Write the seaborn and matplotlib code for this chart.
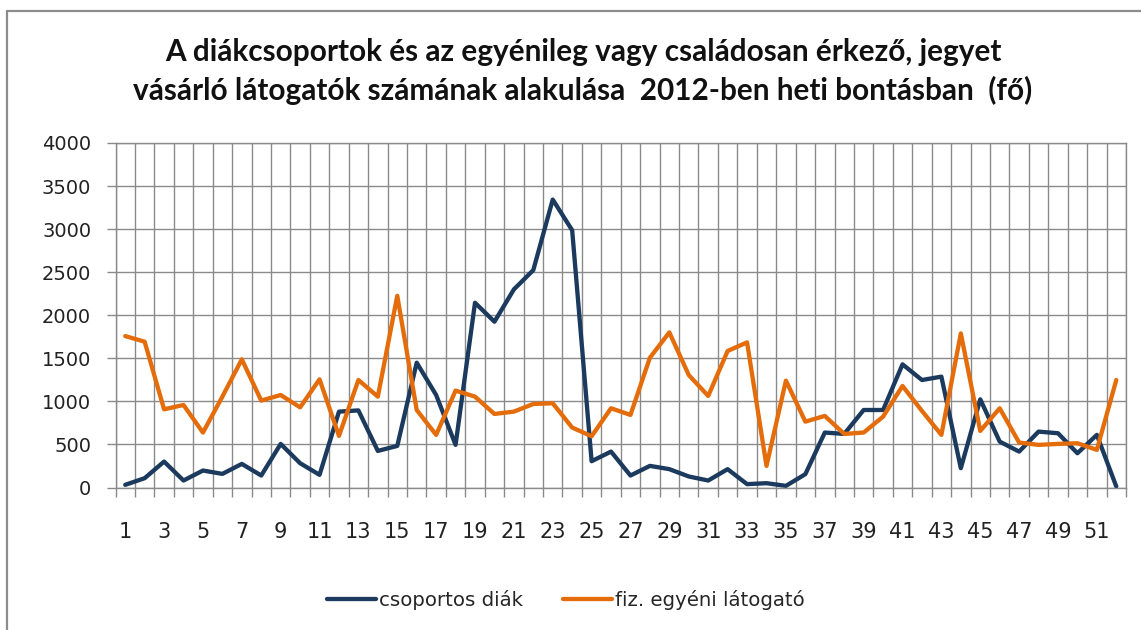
import matplotlib
matplotlib.use("Agg")
import matplotlib.pyplot as plt
import seaborn as sns
import pandas as pd
from matplotlib.lines import Line2D
from matplotlib.ticker import FixedLocator

# ---- data ----
weeks = list(range(1, 53))
series_names = ["csoportos diák", "fiz. egyéni látogató"]
diak = [31, 108, 301, 81, 197, 158, 274, 139, 506, 282, 147, 881, 895,
        425, 483, 1449, 1074, 495, 2145, 1925, 2300, 2524, 3343, 2987, 305,
        417, 139, 251, 213, 128, 81, 213, 39, 50, 19, 155, 638, 622,
        900, 900, 1430, 1248, 1287, 224, 1024, 533, 417, 649, 630, 398, 611, 12]
egyeni = [1758, 1693, 908, 958, 638, 1055, 1488, 1009, 1074, 931, 1256, 599,
          1248, 1055, 2226, 900, 611, 1125, 1055, 854, 881, 970, 978, 696, 595,
          920, 843, 1507, 1801, 1306, 1063, 1585, 1685, 251, 1241, 765, 831, 622,
          638, 823, 1179, 889, 611, 1789, 657, 920, 522, 495, 506, 514, 437, 1248]
x_tick_labels = [str(w) for w in range(1, 53, 2)]
y_ticks = list(range(0, 4001, 500))
title_lines = ["A diákcsoportok és az egyénileg vagy családosan érkező, jegyet",
               "vásárló látogatók számának alakulása  2012-ben heti bontásban  (fő)"]
colors = ["#1B3A5E", "#E46C0A"]

df = pd.DataFrame({
    "het": weeks * 2,
    "fo": diak + egyeni,
    "sorozat": [series_names[0]] * len(weeks) + [series_names[1]] * len(weeks),
})

sns.set_theme(style="white")
plt.rcParams['font.family'] = ['DejaVu Sans']

W, H = 1141, 630
fig = plt.figure(figsize=(W / 100, H / 100), dpi=100)
fig.patch.set_facecolor("white")
ax = fig.add_axes([115.5 / W, 1 - 487.5 / H, (1126 - 115.5) / W, (487.5 - 143) / H])

sns.lineplot(data=df, x="het", y="fo", hue="sorozat", palette=colors,
             linewidth=3.1, ax=ax, legend=False, sort=False)
for ln in ax.lines:
    ln.set_solid_joinstyle("round")
    ln.set_solid_capstyle("round")

grid_c = "#8A8A8A"
ax.set_xlim(0.5, 52.5)
ax.set_ylim(0, 4000)
ax.xaxis.set_major_locator(FixedLocator(list(range(1, 53, 2))))
ax.set_xticklabels(x_tick_labels)
ax.xaxis.set_minor_locator(FixedLocator([w + 0.5 for w in range(0, 53)]))
ax.set_yticks(y_ticks)
ax.set_yticklabels([str(v) for v in y_ticks])
ax.set_xlabel("")
ax.set_ylabel("")

ax.grid(False)
ax.grid(True, which="minor", axis="x", color=grid_c, linewidth=1.0)
ax.grid(True, which="major", axis="y", color=grid_c, linewidth=1.0)
ax.tick_params(axis="x", which="major", length=0, pad=25, labelsize=15, labelcolor="#222222")
ax.tick_params(axis="x", which="minor", length=6.5, width=1.0, color=grid_c, direction="out", bottom=True)
ax.tick_params(axis="y", which="major", length=6.5, width=1.0, color=grid_c, direction="out",
               pad=11, labelsize=14, labelcolor="#222222", left=True)
for s in ax.spines.values():
    s.set_color(grid_c)
    s.set_linewidth(1.0)
ax.set_axisbelow(True)

# title
fig.text(0.511, 1 - 52 / H, title_lines[0], ha="center", va="center",
         fontsize=21.4, fontweight="bold", family="Lato", color="#111111")
fig.text(0.511, 1 - 90 / H, title_lines[1], ha="center", va="center",
         fontsize=21.4, fontweight="bold", family="Lato", color="#111111")

# legend
handles = [Line2D([0], [0], color=c, linewidth=3.1) for c in colors]
fig.legend(handles, series_names, loc="center", bbox_to_anchor=(566 / W, 1 - 600 / H),
           ncol=2, frameon=False, fontsize=14.2, handlelength=2.5, handletextpad=0.15,
           columnspacing=2.0)

# outer chart border (top and left visible)
fig.add_artist(Line2D([7 / W, 1.0], [1 - 11 / H, 1 - 11 / H], transform=fig.transFigure,
                      color="#8C8C8C", linewidth=1.6))
fig.add_artist(Line2D([7 / W, 7 / W], [0.0, 1 - 11 / H], transform=fig.transFigure,
                      color="#8C8C8C", linewidth=1.6))

fig.savefig("out.png", dpi=100)
